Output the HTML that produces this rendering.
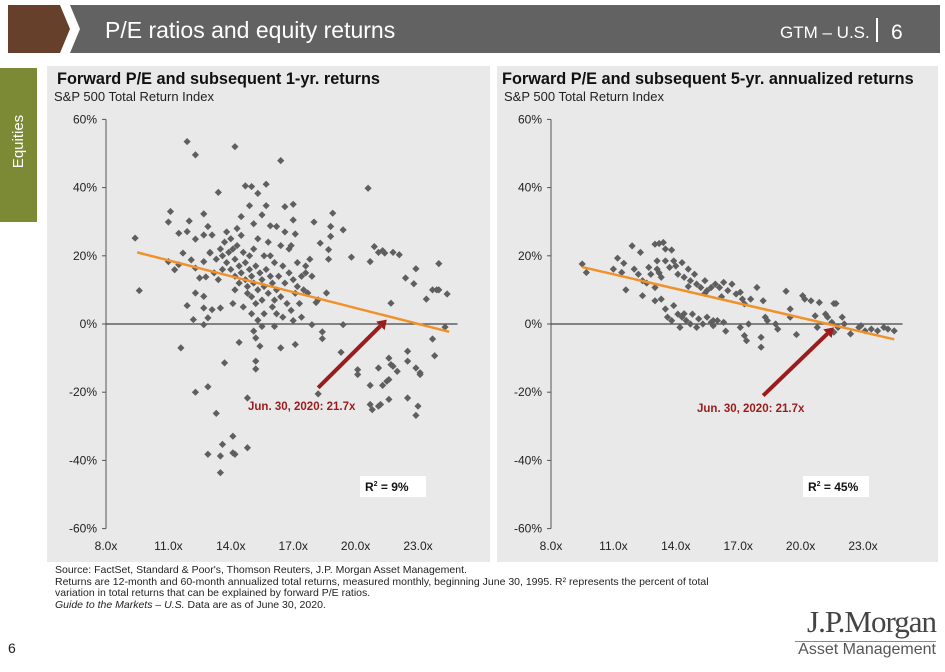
<!DOCTYPE html>
<html><head><meta charset="utf-8"><style>
body{margin:0;width:945px;height:672px;background:#fff;font-family:"Liberation Sans",sans-serif;overflow:hidden;position:relative}
.abs{position:absolute}
.foot{font-size:10.5px;color:#222;line-height:11.5px}
</style></head><body>
<svg class="abs" style="left:0;top:0" width="945" height="60">
<polygon points="8,5 60,5 70,29 60,53 8,53" fill="#66402a"/>
<polygon points="70,5 940,5 940,53 70,53 80,29" fill="#626262"/>
<text x="105" y="38" fill="#fff" font-size="23" font-family="Liberation Sans Narrow, Liberation Sans, sans-serif">P/E ratios and equity returns</text>
<text x="780" y="38" fill="#fff" font-size="17">GTM – U.S.</text>
<rect x="876" y="18" width="2" height="24" fill="#fff"/>
<text x="891" y="39" fill="#fff" font-size="21">6</text>
</svg>
<div class="abs" style="left:0;top:68px;width:37px;height:154px;background:#7d8a35">
<div class="abs" style="left:-40px;top:65px;width:117px;text-align:center;transform:rotate(-90deg);color:#fff;font-size:15px">Equities</div></div>
<svg id="chart" class="abs" style="left:0;top:0" width="945" height="672"></svg>
<div class="abs foot" style="left:55px;top:565px">Source: FactSet, Standard &amp; Poor's, Thomson Reuters, J.P. Morgan Asset Management.<br>Returns are 12-month and 60-month annualized total returns, measured monthly, beginning June 30, 1995. R² represents the percent of total<br>variation in total returns that can be explained by forward P/E ratios.<br><i>Guide to the Markets – U.S.</i> Data are as of June 30, 2020.</div>
<div class="abs" style="left:8px;top:640px;font-size:14px;color:#222">6</div>
<div class="abs" style="left:790px;top:604px;width:146px;text-align:right;font-family:'Liberation Serif',serif;font-size:31px;color:#444;letter-spacing:-1px">J.P.Morgan</div>
<div class="abs" style="left:795px;top:641px;width:141px;height:1px;background:#888"></div>
<div class="abs" style="left:790px;top:641px;width:146px;text-align:right;font-size:16px;color:#555">Asset Management</div>
<script>
const xTicks=[8,11,14,17,20,23];
const yTicks=[60,40,20,0,-20,-40,-60];
const leftPE=[9.4,9.6,11.9,12.3,14.2,16.4,20.6,13.4,14.7,15.0,15.7,15.3,11.1,11.0,12.0,12.7,18.9,18.0,19.4,16.6,17.0,17.0,14.5,14.9,15.5,15.7,15.1,15.9,16.2,18.8,18.8,17.1,11.5,11.9,12.9,12.3,12.7,13.1,11.7,12.1,11.0,11.3,11.5,12.3,12.5,12.7,13.0,12.8,11.9,12.2,12.3,12.7,12.7,12.7,12.9,13.1,13.5,11.6,12.3,12.9,13.3,13.7,12.9,13.5,13.5,13.6,14.1,14.1,14.2,14.8,14.4,14.8,15.1,15.2,15.2,15.2,15.4,15.5,16.4,17.1,15.3,16.1,17.9,18.4,18.4,18.2,19.3,19.4,20.1,20.1,20.7,20.8,20.7,21.1,21.1,21.2,21.3,21.6,21.5,21.6,21.6,21.7,21.8,22.0,22.5,22.5,22.5,22.9,23.1,23.1,23.0,22.9,23.7,23.8,24.3,24.4,23.9,24.0,23.7,23.4,24.0,22.9,22.4,22.8,21.7,20.7,20.9,21.1,21.3,21.4,21.8,22.1,19.8,18.7,18.7,18.3,18.6,18.2,18.1,17.8,17.6,17.9,17.7,
13.5,13.6,13.7,13.8,13.9,14.0,14.0,14.1,14.2,14.2,14.3,14.4,14.5,14.5,14.6,14.7,14.7,14.8,14.9,15.0,15.0,15.1,15.1,15.2,15.3,15.3,15.4,15.5,15.5,15.6,15.6,15.7,15.8,15.8,15.9,16.0,16.0,16.1,16.2,16.2,16.3,16.4,16.5,16.5,16.6,16.7,16.8,16.8,16.9,17.0,17.0,17.1,17.2,17.2,17.3,17.4,17.5,13.2,13.0,13.3,13.4,14.2,14.6,14.8,15.0,13.8,14.3,16.9,16.6,15.9,14.1,16.1,15.6,17.4,17.6,13.6,14.4,15.2,16.4,14.9];
const leftRet=[25.2,9.8,53.5,49.6,52,47.9,39.8,38.6,40.5,40.3,41,38.3,33,29.9,30.2,32.3,32.5,29.9,27.6,34.4,35.1,30.5,31.5,34.7,32,34.7,29.4,28.8,28.6,28.6,25.7,26.4,26.6,27.1,28.6,24.9,26.1,26.1,20.8,18.8,18.3,15.9,17.4,16.4,13.5,18.3,20.8,13.8,5.4,1.3,9.1,8.1,4.7,-0.2,1.8,4.2,4.7,-7,-20,-18.4,-26.2,-11.4,-38.2,-38.7,-43.6,-35.3,-32.9,-37.8,-38.2,-36.3,-5.4,-21.7,-2.1,-13.2,-4.1,-10.9,-6.5,-0.7,-7,-6,1.1,-0.7,-0.2,-2.3,-4.3,-20.5,-8.3,-0.2,-14.8,-13.4,-18,-25.1,-23.6,-24.1,-12.9,-23.6,-18,-10,-16.8,-16.3,-22.1,-11.9,-12.4,-13.9,-21.7,-8,-10.9,-12.9,-14.3,-14.8,-24.1,-26.8,-4.4,-9.3,-0.9,8.8,10,10,10,7.3,17.7,16.2,13.5,11.8,6.1,18.3,22.7,21,21.5,20.8,21,20.3,19.6,21.8,19,23.7,9.1,7.1,6.3,19,17,14,9.1,
22,20,24,18,21,25,16,22,19,14,23,17,15,26,21,13,18,11,16,14,8,22,12,17,10,25,15,13,7,20,11,16,9,24,14,12,5,18,10,3,14,8,17,2,12,6,15,22,4,13,1,9,18,11,6,14,10,15,21,19,13,10,5,9,3,27,28,23,27,20,6,7,3,2,15,16,12,6,23,20];
const rightPE=[9.5,9.7,11.2,11.0,11.5,11.4,11.6,11.9,12.3,12.2,12.0,12.4,12.4,12.7,12.8,13.0,13.2,13.4,13.5,13.8,13.1,13.1,13.3,13.0,13.0,13.3,13.5,13.6,13.8,13.9,14.1,14.2,14.3,14.5,14.7,14.8,15.0,15.1,15.3,15.5,15.7,15.8,16.0,16.3,16.4,13.5,13.7,13.9,14.1,14.3,14.4,14.6,14.7,14.9,15.0,15.2,15.4,15.5,15.7,15.9,16.1,16.3,16.5,16.7,16.9,17.1,17.2,17.3,17.6,17.9,18.2,17.1,17.3,17.4,17.5,18.1,18.1,18.3,18.4,18.8,18.9,19.3,19.5,19.5,19.8,20.1,20.2,20.5,20.9,21.6,21.7,20.7,20.8,21.2,21.3,21.5,21.8,22.0,22.1,22.4,22.8,22.9,23.1,23.4,23.7,24.0,24.2,24.5,21.6,12.6,13.2,14.0,14.6,15.4,16.2,14.4,15.8];
const rightRet=[17.6,15.1,19.3,16.1,17.8,15.1,10,22.9,21,14.6,16.1,12.7,8.3,16.6,14.6,23.4,23.6,23.9,22,21.7,18.5,16.1,13.7,10.7,6.8,7.3,4.4,2,1,5.4,2.9,-1,2,1,0,2.9,-1,1.5,0,2,0.5,-0.5,1,0.5,-2.1,18.5,16.6,18.5,14.6,18,13.7,16.1,12.7,14.6,11.7,10.7,12.7,9.8,10.7,11.7,10.7,12.2,9.8,11.7,8.8,9.3,7.3,5.9,7.3,10.7,6.8,-1,-3.4,-4.9,0,-3.9,-6.8,2,1,0,-1.5,9.6,4.4,2,-3.1,8.3,7.3,6.8,6.3,6,6,2.4,-1,2.9,2,0.5,-1,2,0,-2.9,-1,-0.5,-2,-1.5,-2,-1,-1.5,-2,-2.4,12,15,17,11,9,8,3,1];
const leftTrend=[[9.5,21],[24.5,-2.3]];
const rightTrend=[[9.5,16.7],[24.5,-4.5]];
const leftArrow=[[18.2,-18.7],[21.5,1.3]];
const rightArrow=[[18.2,-21],[21.6,-1]];
const panels=[
 {x:47,w:443,ax:106,tx:57,title:"Forward P/E and subsequent 1-yr. returns",pe:leftPE,ret:leftRet,trend:leftTrend,arrow:leftArrow,r2:"9%",lab:[248,410],box:[360,476]},
 {x:497,w:441,ax:551,tx:502,title:"Forward P/E and subsequent 5-yr. annualized returns",pe:rightPE,ret:rightRet,trend:rightTrend,arrow:rightArrow,r2:"45%",lab:[697,412],box:[803,476]}];
const NS="http://www.w3.org/2000/svg";
const svg=document.getElementById('chart');
function mk(t,a,p){const e=document.createElementNS(NS,t);for(const k in a)e.setAttribute(k,a[k]);(p||svg).appendChild(e);return e;}
const Y0=324,PY=3.41,PX=20.8;
panels.forEach((P,i)=>{
 const g=mk('g',{});
 
 
 const X=v=>P.ax+(v-8)*PX, Yf=v=>Y0-v*PY;
 mk('rect',{x:P.x,y:66,width:P.w,height:496,fill:'#e9e9e9'},g);
 let t=mk('text',{x:P.tx,y:84,'font-size':16.3,'font-weight':'bold',fill:'#111'},g);t.textContent=P.title;
 
 t=mk('text',{x:P.x+7,y:101,'font-size':13,fill:'#222'},g);t.textContent="S&P 500 Total Return Index";
 
 mk('line',{x1:P.ax,y1:Yf(60),x2:P.ax,y2:Yf(-60),stroke:'#555','stroke-width':1},g);
 yTicks.forEach(v=>{mk('line',{x1:P.ax-4,y1:Yf(v),x2:P.ax,y2:Yf(v),stroke:'#555'},g);
  const tt=mk('text',{x:P.ax-9,y:Yf(v)+4,'font-size':12,fill:'#222','text-anchor':'end'},g);tt.textContent=v+'%';
  });
 xTicks.forEach(v=>{const tt=mk('text',{x:X(v),y:550,'font-size':12,fill:'#222','text-anchor':'middle'},g);tt.textContent=v.toFixed(1)+'x';
  });
 mk('line',{x1:P.ax,y1:Y0,x2:X(24.9),y2:Y0,stroke:'#444','stroke-width':1.2},g);
 P.pe.forEach((p,j)=>{const r=P.ret[j];if(r===undefined)return;const cx=X(p),cy=Yf(r);
  const d=mk('polygon',{points:`${cx},${cy-3.6} ${cx+3.6},${cy} ${cx},${cy+3.6} ${cx-3.6},${cy}`,fill:'#5f5f5f'},g);
  });
 const tl=mk('line',{x1:X(P.trend[0][0]),y1:Yf(P.trend[0][1]),x2:X(P.trend[1][0]),y2:Yf(P.trend[1][1]),stroke:'#f0922b','stroke-width':2.5},g);
 
 const ax1=X(P.arrow[0][0]),ay1=Yf(P.arrow[0][1]),ax2=X(P.arrow[1][0]),ay2=Yf(P.arrow[1][1]);
 const ang=Math.atan2(ay2-ay1,ax2-ax1);
 const bx=ax2-9*Math.cos(ang),by=ay2-9*Math.sin(ang);
 const ar=mk('g',{},g);
 mk('line',{x1:ax1,y1:ay1,x2:bx,y2:by,stroke:'#9b1c1c','stroke-width':4},ar);
 const px=-Math.sin(ang)*6,py=Math.cos(ang)*6;
 mk('polygon',{points:`${ax2},${ay2} ${bx+px},${by+py} ${bx-px},${by-py}`,fill:'#9b1c1c'},ar);
 t=mk('text',{x:P.lab[0],y:P.lab[1],'font-size':11.5,'font-weight':'bold',fill:'#9b1c1c'},g);t.textContent="Jun. 30, 2020: 21.7x";
 
 mk('rect',{x:P.box[0],y:P.box[1],width:66,height:21,fill:'#fff'},g);
 t=mk('text',{x:P.box[0]+5,y:P.box[1]+15,'font-size':12,'font-weight':'bold',fill:'#111'},g);
 t.innerHTML='R<tspan dy="-5" font-size="7">2</tspan><tspan dy="5"> =   '+P.r2+'</tspan>';
 
});
</script>
</body></html>
